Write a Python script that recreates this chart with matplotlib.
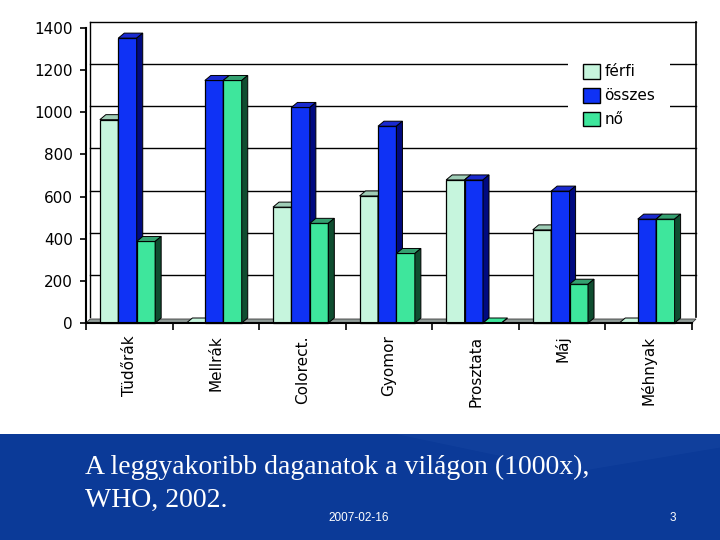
import matplotlib
matplotlib.use("Agg")
import matplotlib.pyplot as plt
from matplotlib.patches import Polygon, Rectangle, Patch
from matplotlib.lines import Line2D

# ---- data (thousand cases, WHO 2002) ----
categories = ["Tüdőrák", "Mellrák", "Colorect.", "Gyomor", "Prosztata", "Máj", "Méhnyak"]
ferfi = [965, 0, 550, 603, 679, 442, 0]
osszes = [1352, 1151, 1023, 934, 679, 626, 493]
no = [387, 1151, 473, 330, 0, 184, 493]
series_names = ["férfi", "összes", "nő"]
y_ticks = [0, 200, 400, 600, 800, 1000, 1200, 1400]

# ---- styles ----
front_cols = ["#c6f5dd", "#0f32f5", "#3ee69c"]
top_cols = ["#9fcdb6", "#1a2ad0", "#34a070"]
side_cols = ["#8fb8a4", "#000a80", "#0f4d30"]

W, H = 720, 540
fig = plt.figure(figsize=(W / 100, H / 100), dpi=100)
fig.patch.set_facecolor("white")

# blue band at bottom
band_top = (H - 434) / H
fig.add_artist(Rectangle((0, 0), 1, band_top, transform=fig.transFigure,
                         facecolor="#0b3a98", edgecolor="none", zorder=0))
fig.add_artist(Polygon([(0.55, band_top), (1, band_top), (1, band_top - 0.025),
                        (0.8, band_top - 0.07)], closed=True,
                       transform=fig.transFigure, facecolor="#3a6ac0",
                       alpha=0.12, edgecolor="none", zorder=0))

# chart axes: x 86..692 px, y 0 at 323 px, 1400 at 28 px
ax = fig.add_axes([86 / W, (H - 323) / H, 606 / W, 295 / H])
ax.set_xlim(0, len(categories))
ax.set_ylim(0, 1400)
ax.patch.set_alpha(0)

px_x = 606 / len(categories)
px_y = 295 / 1400
wdx, wdy = 4 / px_x, 6 / px_y      # back wall offset
bdx, bdy = 6 / px_x, 5 / px_y      # bar depth offset
n = len(categories)

# back wall gridlines and frame
for v in y_ticks[1:]:
    ax.add_line(Line2D([wdx, n + wdx], [v + wdy, v + wdy], color="black",
                       lw=1.0, clip_on=False, zorder=1))
ax.add_line(Line2D([wdx, wdx], [wdy, 1400 + wdy], color="black", lw=1.0,
                   clip_on=False, zorder=1))
ax.add_line(Line2D([n + wdx, n + wdx], [wdy, 1400 + wdy], color="black", lw=1.2,
                   clip_on=False, zorder=1))

# floor slab
ax.add_patch(Polygon([(0, 0), (n, 0), (n + wdx, 4 / px_y), (wdx, 4 / px_y)],
                     closed=True, facecolor="#8f9a96", edgecolor="#3a3a3a",
                     lw=0.6, clip_on=False, zorder=2))

# bars with pseudo-3D faces
bw = 0.213
start = 0.16
z = 3
for i in range(n):
    vals = [ferfi[i], osszes[i], no[i]]
    for j, v in enumerate(vals):
        x0 = i + start + j * bw
        x1 = x0 + bw
        if v > 0:
            ax.add_patch(Rectangle((x0, 0), bw, v, facecolor=front_cols[j],
                                   edgecolor="black", lw=0.9, zorder=z, clip_on=False))
        ax.add_patch(Polygon([(x0, v), (x1, v), (x1 + bdx, v + bdy), (x0 + bdx, v + bdy)],
                             closed=True, facecolor=top_cols[j] if v > 0 else front_cols[j],
                             edgecolor="black", lw=0.7, zorder=z, clip_on=False))
        ax.add_patch(Polygon([(x1, 0), (x1 + bdx, bdy), (x1 + bdx, v + bdy), (x1, v)],
                             closed=True, facecolor=side_cols[j],
                             edgecolor="black", lw=0.7, zorder=z, clip_on=False))
        z += 1

# axes styling
for s in ["top", "right"]:
    ax.spines[s].set_visible(False)
for s in ["left", "bottom"]:
    ax.spines[s].set_linewidth(1.5)
    ax.spines[s].set_zorder(50)
ax.set_yticks(y_ticks)
ax.set_yticklabels([str(t) for t in y_ticks], fontsize=11, family="DejaVu Sans")
ax.tick_params(axis="y", length=4.5, width=1.2, pad=5)
ax.set_xticks(range(n + 1))
ax.set_xticklabels([])
ax.tick_params(axis="x", which="major", length=5, width=1.2)
ax.set_xticks([i + 0.5 for i in range(n)], minor=True)
ax.set_xticklabels(categories, minor=True, rotation=90, fontsize=11,
                   family="DejaVu Sans", va="top", ha="center")
ax.tick_params(axis="x", which="minor", length=0, pad=9)

# legend
handles = [Patch(facecolor=front_cols[k], edgecolor="black", lw=1.0, label=series_names[k])
           for k in range(3)]
leg = fig.legend(handles=handles, loc="upper left",
                 bbox_to_anchor=(560 / W, 1 - 41 / H), bbox_transform=fig.transFigure,
                 frameon=True, fancybox=False, handlelength=1.1,
                 handleheight=1.1, handletextpad=0.3, labelspacing=0.55,
                 borderpad=1.0, prop={"family": "DejaVu Sans", "size": 11})
leg.get_frame().set_facecolor("white")
leg.get_frame().set_edgecolor("none")
leg.get_frame().set_alpha(1)
leg.set_zorder(100)

# slide texts
fig.text(85 / W, 1 - 467 / H, "A leggyakoribb daganatok a világon (1000x),",
         color="white", fontsize=20, family="Liberation Serif", va="center", ha="left")
fig.text(85 / W, 1 - 500 / H, "WHO, 2002.", color="white", fontsize=20,
         family="Liberation Serif", va="center", ha="left")
fig.text(359 / W, 1 - 518 / H, "2007-02-16", color="white", fontsize=8.5,
         family="Liberation Sans", va="center", ha="center")
fig.text(673 / W, 1 - 518 / H, "3", color="white", fontsize=8.5,
         family="Liberation Sans", va="center", ha="center")

fig.savefig("out.png", dpi=100)
